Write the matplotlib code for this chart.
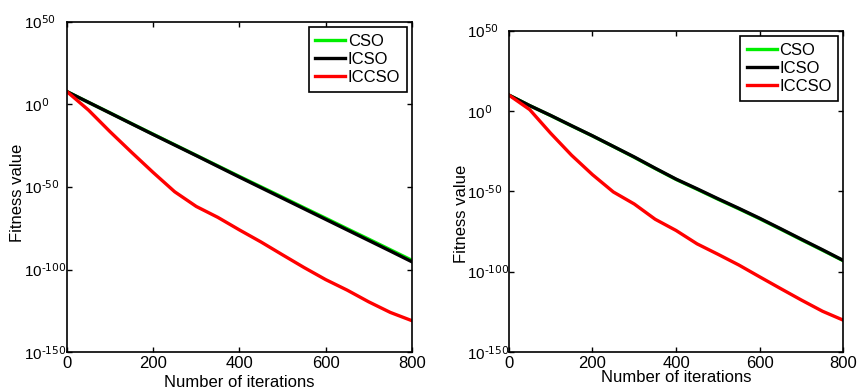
import numpy as np
import matplotlib
matplotlib.use("Agg")
import matplotlib.pyplot as plt

plt.rcParams['font.family'] = ['Liberation Sans', 'DejaVu Sans']
plt.rcParams['mathtext.default'] = 'regular'

# ITERATIONS (every 50 steps)
iters = [0, 50, 100, 150, 200, 250, 300, 350, 400, 450, 500, 550, 600, 650, 700, 750, 800]

# LOG10 OF FITNESS VALUE - LEFT PANEL
left_cso   = [7.8, 1.3, -5.1, -11.6, -18.0, -24.4, -30.8, -37.2, -43.6, -49.9, -56.2, -62.6, -68.9, -75.3, -81.6, -88.0, -94.4]
left_icso  = [7.8, 1.3, -5.2, -11.7, -18.2, -24.6, -31.0, -37.5, -44.0, -50.4, -56.8, -63.2, -69.6, -76.0, -82.4, -88.8, -95.3]
left_iccso = [7.8, -3.4, -16.5, -29.0, -41.2, -52.9, -61.8, -68.4, -76.0, -83.3, -91.1, -98.8, -106.1, -112.5, -119.6, -126.0, -131.0]

# LOG10 OF FITNESS VALUE - RIGHT PANEL
right_cso   = [10.1, 3.5, -2.7, -9.1, -15.4, -22.0, -28.7, -35.7, -42.5, -48.6, -54.8, -60.8, -67.0, -73.5, -80.1, -86.6, -93.2]
right_icso  = [10.1, 3.5, -2.6, -9.0, -15.3, -21.9, -28.5, -35.5, -42.3, -48.3, -54.5, -60.5, -66.7, -73.2, -79.8, -86.3, -93.0]
right_iccso = [10.1, 1.0, -13.7, -27.4, -39.5, -50.3, -57.8, -67.3, -74.3, -82.6, -89.1, -95.8, -103.2, -110.5, -117.7, -124.6, -130.2]

ytick_vals = [1e50, 1e0, 1e-50, 1e-100, 1e-150]
ytick_labels = [r'$10^{\text{50}}$', r'$10^{\text{0}}$', r'$10^{\text{-50}}$',
                r'$10^{\text{-100}}$', r'$10^{\text{-150}}$']
xtick_vals = [0, 200, 400, 600, 800]

fig = plt.figure(figsize=(8.58, 3.92), dpi=100)
ax1 = fig.add_axes([0.078, 0.102, 0.402, 0.842])
ax2 = fig.add_axes([0.593, 0.102, 0.390, 0.819])

# (axes, series..., ylabel x, ylabel y, xlabel pad, ytick pad)
panels = [(ax1, left_cso, left_icso, left_iccso, -0.122, 0.483, 3, 31),
          (ax2, right_cso, right_icso, right_iccso, -0.119, 0.431, -1, 30)]

for ax, cso, icso, iccso, ylx, yly, xpad, ypad in panels:
    ax.plot(iters, 10.0 ** np.array(cso), color='#00ee00', lw=2.4, label='CSO')
    ax.plot(iters, 10.0 ** np.array(icso), color='black', lw=2.4, label='ICSO')
    ax.plot(iters, 10.0 ** np.array(iccso), color='#ff0000', lw=2.4, label='ICCSO')
    ax.set_yscale('log')
    ax.set_ylim(1e-150, 1e50)
    ax.set_xlim(0, 800)
    ax.set_yticks(ytick_vals)
    ax.set_yticklabels(ytick_labels)
    ax.set_xticks(xtick_vals)
    ax.minorticks_off()
    ax.tick_params(direction='in', top=True, right=True, length=3.6, width=1.0)
    ax.tick_params(axis='x', labelsize=12, pad=3)
    ax.tick_params(axis='y', labelsize=11, pad=ypad)
    for lab in ax.get_yticklabels():
        lab.set_horizontalalignment('left')
        lab.set_verticalalignment('center_baseline')
    for sp in ax.spines.values():
        sp.set_linewidth(1.2)
    ax.set_xlabel('Number of iterations', fontsize=12, labelpad=xpad)
    ax.set_ylabel('Fitness value', fontsize=12)
    ax.yaxis.set_label_coords(ylx, yly)
    leg = ax.legend(loc='upper right', fontsize=12, handlelength=1.8, handletextpad=0.15,
                    labelspacing=0.2, borderpad=0.4, borderaxespad=0.3, fancybox=False)
    leg.get_frame().set_edgecolor('black')
    leg.get_frame().set_linewidth(1.2)
    leg.get_frame().set_alpha(1.0)

fig.savefig('out.png', dpi=100)
